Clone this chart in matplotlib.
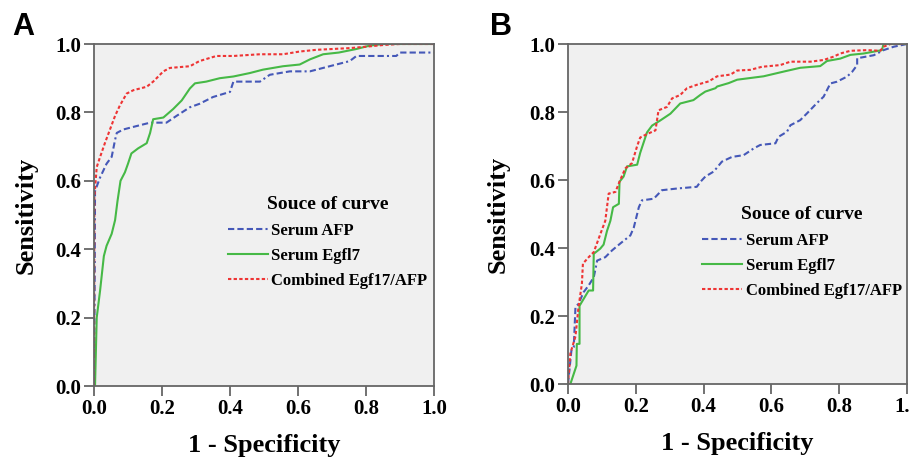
import matplotlib
matplotlib.use('Agg')
from matplotlib import pyplot as plt

# ---------------- data ----------------
# panel A
a_afp_x = [0, 0.002, 0.003, 0.018, 0.037, 0.052, 0.062, 0.067, 0.086, 0.125, 0.165, 0.213, 0.243,
           0.282, 0.31, 0.35, 0.40, 0.41, 0.488, 0.517, 0.576, 0.635, 0.693, 0.752, 0.772, 0.83,
           0.889, 0.9, 1.0]
a_afp_y = [0, 0.30, 0.57, 0.61, 0.65, 0.67, 0.72, 0.74, 0.75, 0.76, 0.77, 0.77, 0.79,
           0.815, 0.825, 0.845, 0.86, 0.89, 0.89, 0.91, 0.92, 0.92, 0.935, 0.95, 0.965, 0.965,
           0.965, 0.975, 0.975]

a_egf_x = [0, 0.003, 0.008, 0.018, 0.029, 0.037, 0.052, 0.062, 0.069, 0.078, 0.091, 0.10, 0.11,
           0.13, 0.155, 0.165, 0.174, 0.204, 0.233, 0.258, 0.282, 0.297, 0.33, 0.37, 0.41, 0.458,
           0.497, 0.556, 0.605, 0.635, 0.674, 0.72, 0.77, 0.81, 0.85, 1.0]
a_egf_y = [0, 0.0, 0.2, 0.28, 0.38, 0.41, 0.445, 0.485, 0.54, 0.60, 0.625, 0.65, 0.68,
           0.695, 0.71, 0.74, 0.78, 0.785, 0.81, 0.835, 0.87, 0.885, 0.89, 0.90, 0.905, 0.915,
           0.925, 0.935, 0.94, 0.955, 0.97, 0.975, 0.985, 0.995, 1.0, 1.0]

a_comb_x = [0, 0.001, 0.008, 0.018, 0.032, 0.047, 0.062, 0.076, 0.096, 0.116, 0.155, 0.174, 0.204,
            0.223, 0.282, 0.31, 0.36, 0.41, 0.488, 0.556, 0.605, 0.654, 0.752, 0.80, 0.85, 0.9, 1.0]
a_comb_y = [0, 0.55, 0.64, 0.67, 0.71, 0.75, 0.79, 0.82, 0.855, 0.865, 0.875, 0.89, 0.92,
            0.93, 0.935, 0.95, 0.965, 0.965, 0.97, 0.97, 0.978, 0.983, 0.988, 0.992, 0.997, 1.0, 1.0]

# panel B
b_afp_x = [0, 0.01, 0.017, 0.022, 0.031, 0.046, 0.061, 0.076, 0.086, 0.11, 0.13, 0.154, 0.184,
           0.194, 0.209, 0.218, 0.253, 0.277, 0.322, 0.38, 0.39, 0.405, 0.43, 0.454, 0.484, 0.518,
           0.548, 0.567, 0.612, 0.621, 0.646, 0.656, 0.685, 0.705, 0.734, 0.754, 0.774, 0.793,
           0.823, 0.838, 0.853, 0.853, 0.902, 0.931, 0.961, 1.0]
b_afp_y = [0, 0.098, 0.108, 0.226, 0.236, 0.27, 0.29, 0.314, 0.363, 0.373, 0.393, 0.413, 0.437,
           0.46, 0.52, 0.54, 0.545, 0.57, 0.575, 0.58, 0.594, 0.61, 0.625, 0.654, 0.668, 0.673,
           0.693, 0.703, 0.708, 0.727, 0.742, 0.761, 0.776, 0.796, 0.826, 0.845, 0.884, 0.889,
           0.904, 0.918, 0.938, 0.958, 0.967, 0.982, 0.992, 1.0]

b_egf_x = [0, 0.007, 0.025, 0.026, 0.034, 0.034, 0.046, 0.061, 0.074, 0.076, 0.095, 0.105, 0.115,
           0.125, 0.133, 0.15, 0.152, 0.164, 0.174, 0.204, 0.213, 0.223, 0.233, 0.248, 0.272,
           0.302, 0.331, 0.37, 0.39, 0.405, 0.435, 0.44, 0.474, 0.499, 0.538, 0.577, 0.641,
           0.685, 0.744, 0.764, 0.803, 0.833, 0.872, 0.926, 0.931, 1.0]
b_egf_y = [0, 0.0, 0.054, 0.118, 0.118, 0.23, 0.25, 0.275, 0.275, 0.383, 0.398, 0.41, 0.45,
           0.48, 0.52, 0.53, 0.595, 0.61, 0.64, 0.645, 0.68, 0.71, 0.74, 0.76, 0.775,
           0.795, 0.825, 0.835, 0.85, 0.86, 0.87, 0.875, 0.885, 0.895, 0.90, 0.905, 0.92,
           0.93, 0.935, 0.95, 0.957, 0.968, 0.972, 0.982, 1.0, 1.0]

b_comb_x = [0, 0.007, 0.022, 0.031, 0.041, 0.044, 0.061, 0.076, 0.095, 0.11, 0.12, 0.14, 0.154,
            0.169, 0.189, 0.204, 0.213, 0.233, 0.258, 0.267, 0.292, 0.307, 0.331, 0.351, 0.38,
            0.415, 0.44, 0.479, 0.499, 0.538, 0.572, 0.626, 0.656, 0.715, 0.754, 0.784, 0.803,
            0.833, 0.882, 0.921, 0.931, 0.951, 1.0]
b_comb_y = [0, 0.09, 0.14, 0.226, 0.295, 0.354, 0.373, 0.388, 0.44, 0.48, 0.56, 0.565, 0.60,
            0.634, 0.65, 0.70, 0.725, 0.735, 0.746, 0.805, 0.815, 0.84, 0.85, 0.87, 0.88,
            0.89, 0.905, 0.91, 0.922, 0.924, 0.933, 0.938, 0.948, 0.948, 0.953, 0.963, 0.972,
            0.98, 0.982, 0.98, 0.992, 1.0, 1.0]

labels = ['Serum AFP', 'Serum Egfl7', 'Combined Egf17/AFP']
ticks = [0.0, 0.2, 0.4, 0.6, 0.8, 1.0]
tick_labels = ['0.0', '0.2', '0.4', '0.6', '0.8', '1.0']

# ---------------- style ----------------
serif = 'Liberation Serif'
blue = '#4558b8'
green = '#46b946'
red = '#ee3434'
spine_col = '#666666'
afp_dash = (3, 1.5, 3, 1.5, 3, 1.5, 3, 1.5, 1, 1.5)
comb_dash = (1.6, 1.1)

fig = plt.figure(figsize=(9.09, 4.59), dpi=100)
ax_a = fig.add_axes([94/909, 1-386/459, 340/909, 342/459])
ax_b = fig.add_axes([568/909, 1-384/459, 339/909, 340/459])

# axes, letter, letter x, curves..., legend anchor, xlabel y, ylabel x (axes coords)
panels = [
    (ax_a, 'A', 12, a_afp_x, a_afp_y, a_egf_x, a_egf_y, a_comb_x, a_comb_y, (0.35, 0.60), -0.175, -0.20),
    (ax_b, 'B', 490, b_afp_x, b_afp_y, b_egf_x, b_egf_y, b_comb_x, b_comb_y, (0.352, 0.567), -0.176, -0.207),
]

for ax, letter, lx, ax_x, ax_y, eg_x, eg_y, cb_x, cb_y, legpos, xl_y, yl_x in panels:
    ax.set_facecolor('#f0f0f0')
    l1, = ax.plot(ax_x, ax_y, color=blue, lw=1.5, dashes=afp_dash)
    l2, = ax.plot(eg_x, eg_y, color=green, lw=1.5)
    l3, = ax.plot(cb_x, cb_y, color=red, lw=1.5, dashes=comb_dash)
    ax.set_xlim(0, 1)
    ax.set_ylim(0, 1)
    ax.set_xticks(ticks)
    ax.set_yticks(ticks)
    ax.set_xticklabels(tick_labels, fontfamily=serif, fontweight='bold', fontsize=15)
    ax.set_yticklabels(tick_labels, fontfamily=serif, fontweight='bold', fontsize=15)
    ax.tick_params(direction='out', length=7, width=1.3, color=spine_col, pad=2)
    for s in ax.spines.values():
        s.set_color(spine_col)
        s.set_linewidth(1.3)
    ax.set_xlabel('1 - Specificity', fontfamily=serif, fontweight='bold', fontsize=19, va='center')
    ax.set_ylabel('Sensitivity', fontfamily=serif, fontweight='bold', fontsize=19, va='center')
    ax.xaxis.set_label_coords(0.5, xl_y)
    ax.yaxis.set_label_coords(yl_x, 0.5)
    leg = ax.legend([l1, l2, l3], labels, loc='upper left', bbox_to_anchor=legpos,
                    frameon=False, handlelength=2.4, handletextpad=0.2, labelspacing=0.55,
                    prop={'family': serif, 'weight': 'bold', 'size': 12},
                    title='Souce of curve',
                    title_fontproperties={'family': serif, 'weight': 'bold', 'size': 14})
    leg._legend_box.sep = 7
    fig.text(lx/909, 1 - 12/459, letter, fontfamily='Liberation Sans', fontweight='bold',
             fontsize=22, ha='left', va='top')

fig.savefig('out.png', dpi=100)
